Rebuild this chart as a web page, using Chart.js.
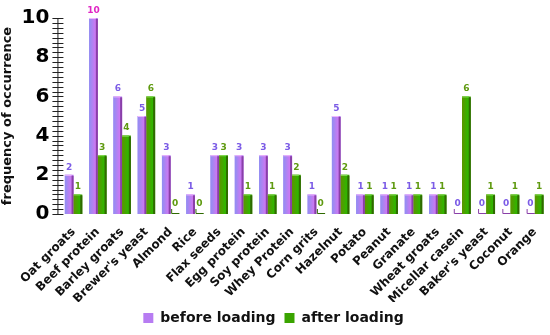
<!DOCTYPE html>
<html>
<head>
<meta charset="utf-8">
<script src="https://cdn.jsdelivr.net/npm/chart.js@4"></script>
<style>
  html, body { margin: 0; padding: 0; background: #fff; }
  #wrap { width: 550px; height: 335px; }
</style>
</head>
<body>
<div id="wrap"><canvas id="chart"></canvas></div>
<script>
const categories = ['Oat groats', 'Beef protein', 'Barley groats', "Brewer's yeast", 'Almond', 'Rice',
    'Flax seeds', 'Egg protein', 'Soy protein', 'Whey Protein', 'Corn grits', 'Hazelnut', 'Potato',
    'Peanut', 'Granate', 'Wheat groats', 'Micellar casein', "Baker's yeast", 'Coconut', 'Orange'];
const beforeLoading = [2, 10, 6, 5, 3, 1, 3, 3, 3, 3, 1, 5, 1, 1, 1, 1, 0, 0, 0, 0];
const afterLoading  = [1, 3, 4, 6, 0, 0, 3, 1, 1, 2, 0, 2, 1, 1, 1, 1, 6, 1, 1, 1];
const yTicks = [0, 2, 4, 6, 8, 10];

const FONT = "'DejaVu Sans', sans-serif";

// 3d look: gradient front face + dark side strip, then value labels
const barLook = {
    id: 'barLook',
    afterDatasetsDraw(chart) {
        const ctx = chart.ctx;
        const looks = [
            { left: '#8f8ff2', right: '#e46ff2', side: '#8a3fa8', top: '#f0b8ff', text: '#7b5be6' },
            { left: '#5c9400', right: '#1ec400', side: '#2f6a00', top: '#8fe060', text: '#5f9a10' }
        ];
        chart.data.datasets.forEach((ds, di) => {
            const meta = chart.getDatasetMeta(di);
            const lk = looks[di];
            meta.data.forEach((bar, i) => {
                const w = bar.width, x0 = bar.x - w / 2, x1 = bar.x + w / 2;
                const top = Math.min(bar.y, bar.base), h = Math.abs(bar.base - bar.y);
                ctx.save();
                if (h > 0) {
                    const g = ctx.createLinearGradient(x0, 0, x1, 0);
                    g.addColorStop(0, lk.left);
                    g.addColorStop(1, lk.right);
                    ctx.fillStyle = g;
                    ctx.fillRect(x0, top, w - 2, h);
                    ctx.fillStyle = lk.side;
                    ctx.fillRect(x1 - 2, top + 1, 2, h - 1);
                    ctx.fillStyle = lk.top;
                    ctx.fillRect(x0, top, w - 2, 1);
                } else {
                    ctx.strokeStyle = lk.side;
                    ctx.lineWidth = 1;
                    ctx.beginPath();
                    ctx.moveTo(x0 + 1, bar.base - 5);
                    ctx.lineTo(x0 + 1, bar.base - 0.5);
                    ctx.lineTo(x1, bar.base - 0.5);
                    ctx.stroke();
                }
                const v = ds.data[i];
                ctx.fillStyle = (v === 10) ? '#e026c4' : lk.text;
                ctx.font = "bold 9px " + FONT;
                ctx.textAlign = 'center';
                ctx.textBaseline = 'bottom';
                ctx.fillText(String(v), bar.x, top - (h > 0 ? 3 : 6));
                ctx.restore();
            });
        });
    }
};

// crossing tick marks on the y axis, every 0.25
const yAxisTicks = {
    id: 'yAxisTicks',
    afterDraw(chart) {
        const y = chart.scales.y;
        const ctx = chart.ctx;
        const xl = chart.chartArea.left - 3;
        ctx.save();
        ctx.strokeStyle = '#222';
        ctx.lineWidth = 1;
        ctx.beginPath();
        for (let v = 0; v <= 10.001; v += 0.25) {
            const py = Math.round(y.getPixelForValue(v)) + 0.5;
            ctx.moveTo(xl - 6, py);
            ctx.lineTo(xl + 5, py);
        }
        ctx.moveTo(xl - 0.5, y.getPixelForValue(10));
        ctx.lineTo(xl - 0.5, y.getPixelForValue(0));
        ctx.stroke();
        ctx.restore();
    }
};

new Chart(document.getElementById('chart'), {
    type: 'bar',
    data: {
        labels: categories,
        datasets: [
            { label: 'before loading', data: beforeLoading, backgroundColor: '#b77cf2', borderWidth: 0,
              categoryPercentage: 0.72, barPercentage: 1.0 },
            { label: 'after loading', data: afterLoading, backgroundColor: '#3aa400', borderWidth: 0,
              categoryPercentage: 0.72, barPercentage: 1.0 }
        ]
    },
    options: {
        responsive: true,
        maintainAspectRatio: false,
        animation: false,
        layout: { padding: { top: 18, right: 3, left: 0, bottom: 0 } },
        plugins: {
            legend: {
                position: 'bottom',
                labels: {
                    font: { family: FONT, size: 14, weight: 'bold' },
                    color: '#111',
                    boxWidth: 10,
                    boxHeight: 10,
                    padding: 9
                }
            },
            tooltip: { enabled: false }
        },
        scales: {
            x: {
                grid: { display: false, drawTicks: false },
                border: { display: false },
                afterFit: (scale) => {
                    scale.paddingLeft = 0;
                    scale.paddingRight = 0;
                    scale.height = 88;
                },
                ticks: {
                    minRotation: 45,
                    maxRotation: 45,
                    autoSkip: false,
                    padding: 11,
                    color: '#111',
                    font: { family: FONT, size: 12, weight: 'bold' }
                }
            },
            y: {
                min: 0,
                max: 10,
                afterBuildTicks: (scale) => { scale.ticks = yTicks.map(v => ({ value: v })); },
                afterFit: (scale) => { scale.paddingTop = 0; scale.paddingBottom = 0; },
                grid: { display: false, drawTicks: false },
                border: { display: false },
                ticks: {
                    padding: 12,
                    color: '#000',
                    font: { family: FONT, size: 20, weight: 'bold' }
                },
                title: {
                    display: true,
                    text: 'frequency of occurrence',
                    color: '#111',
                    padding: { top: 0, bottom: -6 },
                    font: { family: FONT, size: 13, weight: 'bold' }
                }
            }
        }
    },
    plugins: [barLook, yAxisTicks]
});
</script>
</body>
</html>
